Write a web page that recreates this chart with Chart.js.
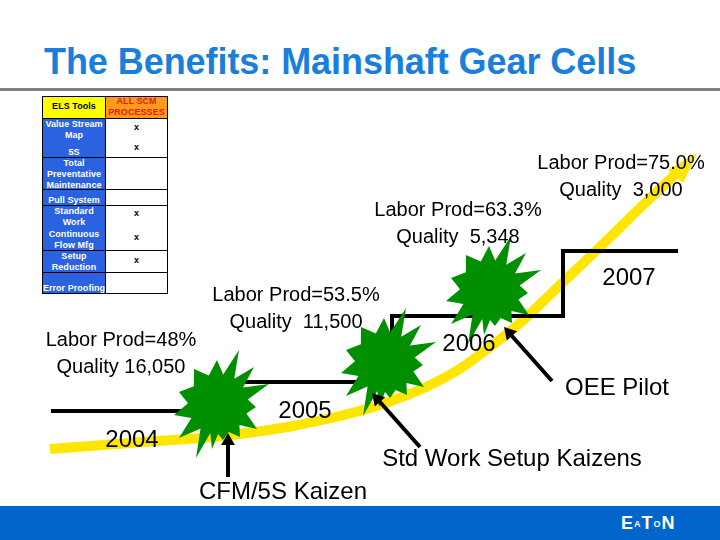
<!DOCTYPE html>
<html>
<head>
<meta charset="utf-8">
<title>The Benefits: Mainshaft Gear Cells</title>
<script src="https://cdn.jsdelivr.net/npm/chart.js@4"></script>
<style>
body { margin: 0; background: #fff; }
#slide { position: relative; width: 720px; height: 540px; overflow: hidden; font-family: "Liberation Sans", Arial, sans-serif; }
#titulo { position: absolute; left: 44px; top: 41px; font-size: 36px; line-height: 42px; color: #1a7fdc; font-weight: bold; letter-spacing: -0.06px; white-space: nowrap; }
#regla { position: absolute; left: 0; top: 88px; width: 720px; height: 3px; background: #808080; }
#banda { position: absolute; left: 0; top: 506px; width: 720px; height: 34px; background: #0066cc; }
#logo { position: absolute; left: 621px; top: 514px; color: #fff; font-weight: bold; font-size: 18px; line-height: 18px; white-space: nowrap; }
#logo span { font-size: 9px; vertical-align: 2px; margin: 0 1px; }
#tabla { position: absolute; left: 42px; top: 96px; width: 126px; height: 198px; }
.celda { position: absolute; box-sizing: border-box; border: 1px solid #000; }
.linea { position: absolute; font-size: 9px; font-weight: bold; line-height: 11px; text-align: center; letter-spacing: 0.05px; white-space: nowrap; color: #fff; }
canvas { position: absolute; left: 0; top: 0; }
</style>
</head>
<body>
<div id="slide">
  <div id="titulo">The Benefits: Mainshaft Gear Cells</div>
  <div id="regla"></div>
  <div id="tabla"></div>
  <div id="banda"></div>
  <div id="logo">E<span>A</span>T<span>O</span>N</div>
  <canvas id="grafico" width="720" height="540"></canvas>
</div>
<script>
const years = ['2004', '2005', '2006', '2007'];
const laborProd = ['Labor Prod=48%', 'Labor Prod=53.5%', 'Labor Prod=63.3%', 'Labor Prod=75.0%'];
const quality = ['Quality 16,050', 'Quality  11,500', 'Quality  5,348', 'Quality  3,000'];
const kaizens = ['CFM/5S Kaizen', 'Std Work Setup Kaizens', 'OEE Pilot'];

// curva amarilla
const curveX = [50, 130, 240, 340, 407, 453, 490, 520, 560, 600, 643, 680];
const curveY = [449, 443, 434, 416, 395, 373, 347, 323, 285, 247, 205, 170];
const headX = [668, 697, 683];
const headY = [170, 153, 183];

// escalones por anio
const stepX = [51, 218, 218, 385, 392, 392, 563, 563, 678];
const stepY = [411, 411, 382, 382, 382, 316, 316, 251, 251];

// centros de las explosiones
const burstX = [218, 385, 490];
const burstY = [404, 362, 290];

// flechas: cola -> punta
const arrowTailX = [228, 420, 552];
const arrowTailY = [477, 447, 381];
const arrowTipX = [228, 372, 504];
const arrowTipY = [433, 393, 327];

// tabla ELS
const tablaFilas = [
  { y: 0, h: 23, fondo: '#ffff00' },
  { y: 22, h: 40, fondo: '#2a62e0' },
  { y: 61, h: 33, fondo: '#2a62e0' },
  { y: 93, h: 17, fondo: '#2a62e0' },
  { y: 109, h: 46, fondo: '#2a62e0' },
  { y: 154, h: 23, fondo: '#2a62e0' },
  { y: 176, h: 22, fondo: '#2a62e0' }
];
const tablaTextos = ['Value Stream', 'Map', '5S', 'Total', 'Preventative', 'Maintenance', 'Pull System', 'Standard', 'Work', 'Continuous', 'Flow Mfg', 'Setup', 'Reduction', 'Error Proofing'];
const tablaTextosY = [28, 39, 56, 67, 78, 89, 104, 115, 126, 138, 149, 160, 171, 192];
const tablaMarcasY = [32, 52, 118, 142, 165];

const tabla = document.getElementById('tabla');
function addDiv(clase, estilo, texto) {
  const d = document.createElement('div');
  d.className = clase;
  d.style.cssText = estilo;
  if (texto) d.textContent = texto;
  tabla.appendChild(d);
}
tablaFilas.forEach(f => {
  addDiv('celda', `left:0;top:${f.y}px;width:64px;height:${f.h}px;background:${f.fondo}`);
  addDiv('celda', `left:63px;top:${f.y}px;width:63px;height:${f.h}px;background:${f.y === 0 ? '#ff9a1a' : '#fff'}`);
});
addDiv('linea', 'left:0;top:5px;width:64px;color:#000', 'ELS Tools');
addDiv('linea', 'left:63px;top:0;width:63px;color:#e02020', 'ALL SCM');
addDiv('linea', 'left:63px;top:11px;width:63px;color:#e02020', 'PROCESSES');
tablaTextos.forEach((t, i) => addDiv('linea', `left:0;top:${tablaTextosY[i] - 5.5}px;width:64px`, t));
tablaMarcasY.forEach(y => addDiv('linea', `left:63px;top:${y - 6}px;width:63px;color:#000`, 'x'));

// forma de la explosion, puntas relativas al centro
const spikes = [[21, -54], [36, -37], [51, -20], [38, 3], [39, 25], [22, 33], [5, 36], [-6, 45], [-22, 54], [-39, 34], [-44, 11], [-39, -12], [-24, -35], [-1, -44]];

function makeBurst() {
  const c = document.createElement('canvas');
  c.width = 120;
  c.height = 120;
  const g = c.getContext('2d');
  g.fillStyle = '#008f00';
  g.beginPath();
  spikes.forEach((p, i) => {
    const q = spikes[(i + 1) % spikes.length];
    g.lineTo(60 + p[0], 60 + p[1]);
    let a = (Math.atan2(p[1], p[0]) + Math.atan2(q[1], q[0])) / 2;
    if (Math.abs(Math.atan2(p[1], p[0]) - Math.atan2(q[1], q[0])) > Math.PI) a += Math.PI;
    g.lineTo(60 + 30 * Math.cos(a), 60 + 30 * Math.sin(a));
  });
  g.closePath();
  g.fill();
  return c;
}

function xy(xs, ys) {
  return xs.map((x, i) => ({ x: x, y: ys[i] }));
}

function arrowDataset(i) {
  const dx = arrowTipX[i] - arrowTailX[i];
  const dy = arrowTipY[i] - arrowTailY[i];
  const len = Math.hypot(dx, dy);
  const r = 8;
  return {
    data: [
      { x: arrowTailX[i], y: arrowTailY[i] },
      { x: arrowTipX[i] - dx / len * r, y: arrowTipY[i] - dy / len * r }
    ],
    showLine: true,
    borderColor: '#000',
    backgroundColor: '#000',
    borderWidth: 4,
    pointStyle: ['line', 'triangle'],
    pointRadius: [0, r],
    pointBorderWidth: 0,
    pointRotation: Math.atan2(dx, -dy) * 180 / Math.PI,
    order: 1
  };
}

const font20 = '20px "Liberation Sans", Arial, sans-serif';
const font24 = '24px "Liberation Sans", Arial, sans-serif';
const placedTexts = [
  { t: laborProd[0], x: 121, y: 340, f: font20 }, { t: quality[0], x: 121, y: 367, f: font20 },
  { t: laborProd[1], x: 296, y: 295, f: font20 }, { t: quality[1], x: 296, y: 322, f: font20 },
  { t: laborProd[2], x: 458, y: 210, f: font20 }, { t: quality[2], x: 458, y: 237, f: font20 },
  { t: laborProd[3], x: 621, y: 163, f: font20 }, { t: quality[3], x: 621, y: 190, f: font20 },
  { t: years[0], x: 132, y: 440, f: font24 }, { t: years[1], x: 305, y: 411, f: font24 },
  { t: years[2], x: 469, y: 344, f: font24 }, { t: years[3], x: 629, y: 278, f: font24 },
  { t: kaizens[0], x: 283, y: 492, f: font24 }, { t: kaizens[1], x: 512, y: 459, f: font24 }, { t: kaizens[2], x: 617, y: 388, f: font24 }
];

const textosPlugin = {
  id: 'textos',
  afterDatasetsDraw(chart) {
    const ctx = chart.ctx;
    ctx.save();
    ctx.fillStyle = '#000';
    ctx.textAlign = 'center';
    ctx.textBaseline = 'middle';
    placedTexts.forEach(l => {
      ctx.font = l.f;
      ctx.fillText(l.t, chart.scales.x.getPixelForValue(l.x), chart.scales.y.getPixelForValue(l.y));
    });
    ctx.restore();
  }
};

new Chart(document.getElementById('grafico'), {
  type: 'scatter',
  data: {
    datasets: [
      {
        data: xy(curveX, curveY),
        showLine: true,
        borderColor: '#ffe600',
        borderWidth: 10,
        borderCapStyle: 'butt',
        tension: 0.4,
        pointRadius: 0,
        order: 5
      },
      {
        data: xy(headX, headY),
        showLine: true,
        borderWidth: 0,
        backgroundColor: '#ffe600',
        fill: 'shape',
        pointRadius: 0,
        order: 5
      },
      {
        data: xy(stepX, stepY),
        showLine: true,
        borderColor: '#000',
        borderWidth: 4,
        borderJoinStyle: 'miter',
        pointRadius: 0,
        order: 3
      },
      {
        data: xy(burstX, burstY),
        showLine: false,
        pointStyle: makeBurst(),
        order: 2
      },
      arrowDataset(0),
      arrowDataset(1),
      arrowDataset(2)
    ]
  },
  options: {
    responsive: false,
    animation: false,
    layout: { padding: 0, autoPadding: false },
    plugins: {
      legend: { display: false },
      tooltip: { enabled: false }
    },
    scales: {
      x: { type: 'linear', display: false, min: 0, max: 720 },
      y: { type: 'linear', display: false, min: 0, max: 540, reverse: true }
    }
  },
  plugins: [textosPlugin]
});
</script>
</body>
</html>
